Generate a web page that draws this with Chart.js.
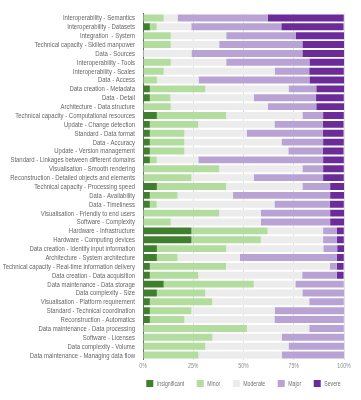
<!DOCTYPE html>
<html>
<head>
<meta charset="utf-8">
<script src="https://cdn.jsdelivr.net/npm/chart.js@4.4.0/dist/chart.umd.min.js"></script>
<style>
  html, body { margin: 0; padding: 0; background: #fff; }
  #wrap { width: 361px; height: 400px; }
</style>
</head>
<body>
<div id="wrap"><canvas id="chart" width="361" height="400"></canvas></div>
<script>
// categories, top to bottom
const labels = [
    'Interoperability - Semantics', 'Interoperability - Datasets', 'Integration  - System',
    'Technical capacity - Skilled manpower', 'Data - Sources', 'Interoperability - Tools',
    'Interoperability - Scales', 'Data - Access', 'Data creation - Metadata', 'Data - Detail',
    'Architecture - Data structure', 'Technical capacity - Computational resources',
    'Update - Change detection', 'Standard - Data format', 'Data - Accuracy',
    'Update - Version management', 'Standard - Linkages between different domains',
    'Visualisation - Smooth rendering', 'Reconstruction - Detailed objects and elements',
    'Technical capacity - Processing speed', 'Data - Availability', 'Data - Timeliness',
    'Visualisation - Friendly to end users', 'Software - Complexity', 'Hardware - Infrastructure',
    'Hardware - Computing devices', 'Data creation - Identify input information',
    'Architecture - System architecture', 'Technical capacity - Real-time information delivery',
    'Data creation - Data acquisition', 'Data maintenance - Data storage', 'Data complexity - Size',
    'Visualisation - Platform requirement', 'Standard - Technical coordination',
    'Reconstruction - Automatics', 'Data maintenance - Data processing', 'Software - Licenses',
    'Data complexity - Volume', 'Data maintenance - Managing data flow'
];

// share of answers in %, one value per category
const insignificant = [0, 3.4, 0, 0, 0, 0, 0, 0, 3.4, 3.4, 0, 6.9, 3.4, 3.4, 3.4, 3.4, 3.4, 0, 0, 6.9,
    3.4, 3.4, 0, 0, 24.1, 24.1, 6.9, 6.9, 3.4, 3.4, 10.3, 6.9, 3.4, 3.4, 3.4, 0, 0, 0, 0];
const minor = [10.3, 3.4, 13.8, 13.8, 0, 13.8, 10.3, 6.9, 27.6, 10.3, 13.8, 34.5, 24.1, 17.2, 17.2, 17.2, 3.4, 37.9, 24.1, 34.5,
    13.8, 3.4, 37.9, 13.8, 37.9, 34.5, 34.5, 10.3, 37.9, 24.1, 44.8, 24.1, 31.0, 20.7, 17.2, 51.7, 34.5, 31.0, 27.6];
const moderate = [6.9, 17.2, 27.6, 24.1, 24.1, 27.6, 55.2, 20.7, 41.4, 41.4, 48.3, 37.9, 37.9, 31.0, 48.3, 51.7, 20.7, 41.4, 31.0, 37.9,
    27.6, 58.6, 20.7, 44.8, 27.6, 31.0, 48.3, 31.0, 51.7, 51.7, 20.7, 48.3, 48.3, 41.4, 44.8, 31.0, 34.5, 41.4, 41.4];
const major = [44.8, 44.8, 34.5, 41.4, 55.2, 41.4, 17.2, 55.2, 13.8, 31.0, 24.1, 10.3, 24.1, 37.9, 20.7, 17.2, 62.1, 10.3, 34.5, 13.8,
    48.3, 27.6, 34.5, 34.5, 6.9, 6.9, 6.9, 48.3, 3.4, 17.2, 24.1, 20.7, 17.2, 34.5, 34.5, 17.2, 31.0, 27.6, 31.0];
const severe = [37.9, 31.0, 24.1, 20.7, 20.7, 17.2, 17.2, 17.2, 13.8, 13.8, 13.8, 10.3, 10.3, 10.3, 10.3, 10.3, 10.3, 10.3, 10.3, 6.9,
    6.9, 6.9, 6.9, 6.9, 3.4, 3.4, 3.4, 3.4, 3.4, 3.4, 0, 0, 0, 0, 0, 0, 0, 0, 0];

const xTicks = [0, 25, 50, 75, 100];

const seriesNames = ['Insignificant', 'Minor', 'Moderate', 'Major', 'Severe'];
const seriesData = [insignificant, minor, moderate, major, severe];
const seriesColors = ['#3f7f2e', '#b3dc9f', '#ececec', '#b9a3d4', '#6b2b99'];

const FONT = "'Liberation Sans', Arial, sans-serif";
// the original uses a narrow light face, so text is squeezed a bit
const SQUEEZE = 0.8;
const LABEL_SQUEEZE = 0.85;

// draws the axis labels and legend with a narrower text width
const narrowText = {
    id: 'narrowText',
    afterDraw(chart) {
        const c = chart.ctx;
        const ys = chart.scales.y;
        const xs = chart.scales.x;
        const area = chart.chartArea;
        const put = (txt, x, y, align, sq) => {
            c.save();
            c.translate(x, y);
            c.scale(sq || SQUEEZE, 1);
            c.textAlign = align;
            c.fillText(txt, 0, 0);
            c.restore();
        };
        c.save();
        c.textBaseline = 'middle';

        // category labels
        c.font = '7px ' + FONT;
        c.fillStyle = '#666';
        labels.forEach((lab, i) => put(lab, ys.right - 8, ys.getPixelForValue(i) + 0.5, 'right', LABEL_SQUEEZE));

        // percent ticks
        c.font = '6.5px ' + FONT;
        c.fillStyle = '#8a8a8a';
        xTicks.forEach(v => put(v + '%', xs.getPixelForValue(v), area.bottom + 7, 'center'));

        // legend, centred under the plot area
        c.font = '6.5px ' + FONT;
        const box = 7, gap = 3.5, pad = 12.5;
        const widths = seriesNames.map(n => c.measureText(n).width * SQUEEZE);
        const total = widths.reduce((a, w) => a + box + gap + w, 0) + pad * (seriesNames.length - 1);
        let x = (area.left + area.right) / 2 - total / 2;
        const ly = area.bottom + 24;
        seriesNames.forEach((n, i) => {
            c.fillStyle = seriesColors[i];
            c.fillRect(x, ly - box / 2, box, box);
            c.fillStyle = '#707070';
            put(n, x + box + gap, ly + 0.5, 'left');
            x += box + gap + widths[i] + pad;
        });
        c.restore();
    }
};

const ctx = document.getElementById('chart').getContext('2d');
new Chart(ctx, {
    type: 'bar',
    data: {
        labels: labels,
        datasets: seriesNames.map((name, i) => ({
            label: name,
            data: seriesData[i],
            backgroundColor: seriesColors[i],
            borderWidth: 0,
            categoryPercentage: 1,
            barPercentage: 0.78
        }))
    },
    options: {
        indexAxis: 'y',
        responsive: false,
        animation: false,
        layout: { padding: { top: 13.5, right: 17, bottom: 40.5, left: 0 } },
        plugins: {
            tooltip: { enabled: false },
            legend: { display: false }
        },
        scales: {
            x: {
                stacked: true,
                min: 0,
                max: 100,
                afterBuildTicks: (axis) => { axis.ticks = xTicks.map(v => ({ value: v })); },
                grid: { color: '#e2e2e2', drawTicks: false },
                border: { display: false },
                ticks: { display: false }
            },
            y: {
                stacked: true,
                afterFit: (axis) => { axis.width = 143; },
                grid: { display: false },
                border: { color: '#666', width: 1 },
                ticks: { display: false }
            }
        }
    },
    plugins: [narrowText]
});
</script>
</body>
</html>
